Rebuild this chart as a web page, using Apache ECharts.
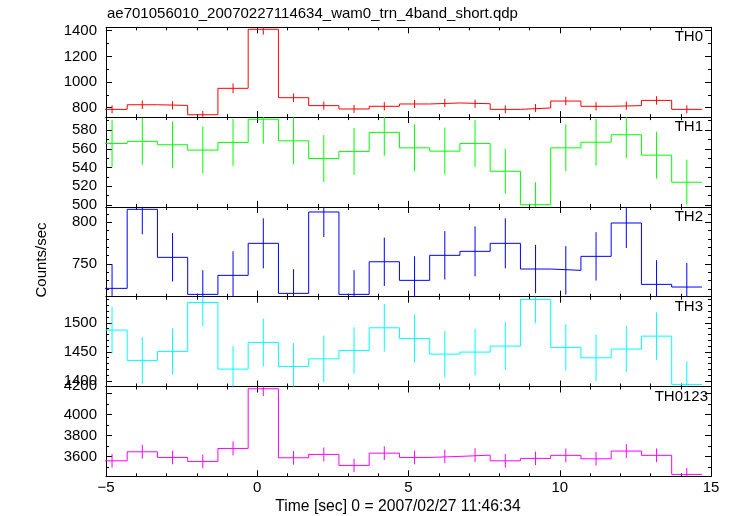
<!DOCTYPE html>
<html><head><meta charset="utf-8">
<script src="https://cdn.jsdelivr.net/npm/echarts@6/dist/echarts.min.js"></script>
<style>html,body{margin:0;padding:0;background:#fff}#c{width:733px;height:516px}</style>
</head><body><div id="c"></div>
<script>
// ---- data ----
const binCenters = [-4.8,-3.8,-2.8,-1.8,-0.8,0.2,1.2,2.2,3.2,4.2,5.2,6.2,7.2,8.2,9.2,10.2,11.2,12.2,13.2,14.2];
const binWidth = 1.0;
const th0 = [787,823,818,745,951,1411,878,816,790,811,829,837,831,787,798,852,811,816,857,787];
const th0Err = [31,33,32,30,38,42,33,32,31,32,32,32,32,31,31,33,32,32,33,31];
const th1 = [565.7,567.9,564.3,558.6,566.8,591.5,568.5,549.6,557.2,577.5,561,557.5,565.7,536,500.3,561,567,575,553.2,524.3];
const th1Err = [25,25,25,25,25,26,25,25,25,25,25,25,25,24,24,25,25,25,25,24];
const th2 = [720.8,815.6,758,713.6,736.4,774.8,714.8,812.4,713.6,752.7,730.4,760.4,765.2,774.8,744,742.4,759.2,799.2,725.6,722.4];
const th2Err = [29,30,29,29,29,30,29,30,29,29,29,29,30,30,29,29,29,30,29,29];
const th3 = [1487.4,1435.2,1450.7,1535,1420.2,1466.2,1424.8,1437.9,1452.4,1491.4,1473,1446,1449.5,1459.8,1540.3,1457.6,1439.7,1454.7,1477,1393.8];
const th3Err = [40,40,40,41,40,41,40,40,40,41,41,40,40,41,41,40,40,40,41,40];
const th0123 = [3558,3644,3590,3552,3676,4246,3587,3619,3514,3631,3590,3600,3612,3558,3581,3610,3577,3651,3610,3428];
const th0123Err = [65,66,65,65,67,70,65,66,64,66,65,65,66,65,65,66,65,66,66,63];

const panelNames = ['TH0','TH1','TH2','TH3','TH0123'];
const panelValues = [th0, th1, th2, th3, th0123];
const panelErrors = [th0Err, th1Err, th2Err, th3Err, th0123Err];
const yRanges = [[726.8,1426.5],[498,593.8],[710.8,818.5],[1390.2,1545],[3410,4267.5]];
const yMajorTicks = [[800,1000,1200,1400],[500,520,540,560,580],[750,800],[1400,1450,1500],[3600,3800,4000,4200]];
const yMinorStep = [100,10,10,10,100];
const xRange = [-5, 15];
const xMajorStep = 5;

const titleText = 'ae701056010_20070227114634_wam0_trn_4band_short.qdp';
const yTitle = 'Counts/sec';
const xTitle = 'Time [sec] 0 = 2007/02/27 11:46:34';

// ---- style ----
const colors = ['#ff0000','#00ff00','#0000ff','#00ffff','#ff00ff'];
const FONT = '"Liberation Sans", Arial, sans-serif';
const gridTop0 = 27.3, gridH = 89.8, gridLeft = 106, gridRight = 22;

function minorVals(r, step, majors) {
  const out = [];
  for (let v = Math.ceil(r[0] / step) * step; v <= r[1]; v += step) {
    if (majors.indexOf(v) < 0) out.push(v);
  }
  return out;
}

const grids = [], xAxes = [], yAxes = [], series = [], graphics = [];
const lineC = '#000';
for (let i = 0; i < 5; i++) {
  const top = gridTop0 + i * gridH;
  grids.push({left: gridLeft, right: gridRight, top: top, height: gridH, containLabel: false});
  const isLast = i === 4;
  xAxes.push({
    type: 'value', gridIndex: i, position: 'bottom', min: xRange[0], max: xRange[1], interval: xMajorStep,
    axisLine: {show: true, onZero: false, lineStyle: {color: lineC, width: 1}},
    axisTick: {show: true, inside: true, length: 6, lineStyle: {color: lineC}},
    minorTick: {show: true, splitNumber: 5, length: 3, lineStyle: {color: lineC}},
    splitLine: {show: false},
    axisLabel: {show: isLast, margin: 4, color: '#000', fontSize: 15, fontFamily: FONT,
      formatter: v => v < 0 ? '\u2212' + Math.abs(v) : String(v)}
  });
  xAxes.push({
    type: 'value', gridIndex: i, position: 'top', min: xRange[0], max: xRange[1], interval: xMajorStep,
    axisLine: {show: true, onZero: false, lineStyle: {color: lineC, width: 1}},
    axisTick: {show: true, inside: true, length: 6, lineStyle: {color: lineC}},
    minorTick: {show: true, splitNumber: 5, length: 3, lineStyle: {color: lineC}},
    splitLine: {show: false}, axisLabel: {show: false}
  });
  const r = yRanges[i];
  const majors = yMajorTicks[i];
  const minors = minorVals(r, yMinorStep[i], majors);
  const isTopLabel = (v) => i === 4 && v === 4200;
  ['left', 'right'].forEach(pos => {
    yAxes.push({
      type: 'value', gridIndex: i, position: pos, min: r[0], max: r[1],
      axisLine: {show: true, onZero: false, lineStyle: {color: lineC, width: 1}},
      axisTick: {show: true, inside: true, length: 6, customValues: majors, lineStyle: {color: lineC}},
      splitLine: {show: false},
      axisLabel: {show: pos === 'left', customValues: majors, margin: 9, color: '#000', fontSize: 15, fontFamily: FONT,
        formatter: v => isTopLabel(v) ? '{up|' + v + '}' : String(v),
        rich: {up: {fontSize: 15, fontFamily: FONT, color: '#000', padding: [0, 0, 16, 0]}}}
    });
    yAxes.push({
      type: 'value', gridIndex: i, position: pos, min: r[0], max: r[1],
      axisLine: {show: false, onZero: false},
      axisTick: {show: true, inside: true, length: 3, customValues: minors, lineStyle: {color: lineC}},
      splitLine: {show: false}, axisLabel: {show: false}
    });
  });
  const vals = panelValues[i];
  const stepData = [];
  binCenters.forEach((c, k) => {
    stepData.push([c - binWidth / 2, vals[k]]);
    stepData.push([c + binWidth / 2, vals[k]]);
  });
  series.push({
    type: 'line', xAxisIndex: 2 * i, yAxisIndex: 4 * i, data: stepData,
    showSymbol: false, symbol: 'none', clip: true, silent: true,
    lineStyle: {color: colors[i], width: 1}, itemStyle: {color: colors[i]}
  });
  const errData = binCenters.map((c, k) => [c, vals[k], panelErrors[i][k]]);
  series.push({
    type: 'custom', xAxisIndex: 2 * i, yAxisIndex: 4 * i, data: errData, silent: true,
    renderItem: (params, api) => {
      const cs = params.coordSys;
      const x = api.value(0), v = api.value(1), e = api.value(2);
      const p1 = api.coord([x, v - e]);
      const p2 = api.coord([x, v + e]);
      const yMin = cs.y, yMax = cs.y + cs.height;
      const ya = Math.min(Math.max(p1[1], yMin), yMax);
      const yb = Math.min(Math.max(p2[1], yMin), yMax);
      if (p1[0] < cs.x || p1[0] > cs.x + cs.width) return null;
      return {type: 'line', shape: {x1: p1[0], y1: ya, x2: p1[0], y2: yb},
        style: {stroke: colors[i], lineWidth: 1}};
    }
  });
  graphics.push({type: 'text', x: i === 4 ? 708 : 703, y: top + 10,
    style: {text: panelNames[i], fill: '#000', font: '15px ' + FONT, align: 'right', verticalAlign: 'middle'}});
}
graphics.push({type: 'text', x: 107, y: 14,
  style: {text: titleText, fill: '#000', font: '15px ' + FONT, align: 'left', verticalAlign: 'middle'}});
graphics.push({type: 'text', x: 41.5, y: 260, rotation: Math.PI / 2,
  style: {text: yTitle, fill: '#000', font: '15px ' + FONT, align: 'center', verticalAlign: 'middle'}});
graphics.push({type: 'text', x: 398, y: 506.5,
  style: {text: xTitle, fill: '#000', font: '15.7px ' + FONT, align: 'center', verticalAlign: 'middle'}});

const chart = echarts.init(document.getElementById('c'), null, {renderer: 'canvas'});
chart.setOption({
  animation: false,
  backgroundColor: '#fff',
  grid: grids, xAxis: xAxes, yAxis: yAxes, series: series, graphic: graphics
});
</script></body></html>
